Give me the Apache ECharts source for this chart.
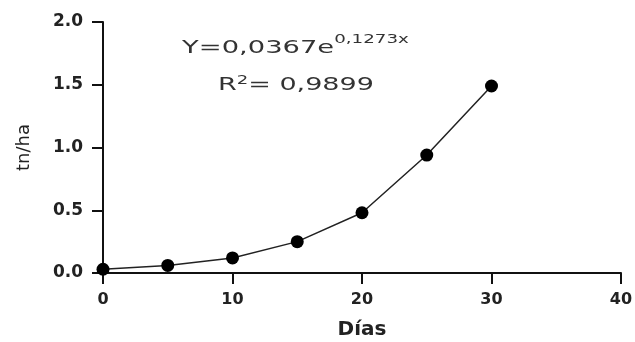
<!DOCTYPE html>
<html><head><meta charset="utf-8">
<script src="https://cdn.jsdelivr.net/npm/echarts@6/dist/echarts.min.js"></script>
<style>html,body{margin:0;padding:0;background:#fff}#c{width:635px;height:342px}</style>
</head><body><div id="c"></div>
<script>
const dias = [0, 5, 10, 15, 20, 25, 30];
const tnha = [0.03, 0.06, 0.12, 0.25, 0.48, 0.94, 1.49];
const xTicks = [0, 10, 20, 30, 40];
const yTicks = [0, 0.5, 1.0, 1.5, 2.0];
const eqText = 'Y=0,0367e';
const eqExp = '0,1273x';
const r2Text = ['R', '2', '= 0,9899'];

const chart = echarts.init(document.getElementById('c'));
const bold = 'DejaVu Sans, sans-serif';
chart.setOption({
  animation: false,
  grid: {left: 103, right: 14, top: 22, bottom: 69, containLabel: false, outerBoundsMode: 'none'},
  xAxis: {
    type: 'value', min: xTicks[0], max: xTicks[xTicks.length-1], interval: 10,
    name: 'Días', nameLocation: 'middle', nameGap: 47,
    nameTextStyle: {fontFamily: bold, fontWeight: 'bold', fontSize: 20, color: '#222'},
    axisLine: {lineStyle: {color: '#111', width: 2}},
    axisTick: {length: 11, lineStyle: {color: '#111', width: 2}},
    axisLabel: {fontFamily: bold, fontWeight: 'bold', fontSize: 16, color: '#222', margin: 19},
    splitLine: {show: false}
  },
  yAxis: {
    type: 'value', min: yTicks[0], max: yTicks[yTicks.length-1], interval: 0.5,
    name: 'tn/ha', nameLocation: 'middle', nameGap: 70,
    nameTextStyle: {fontFamily: bold, fontSize: 18, color: '#222'},
    axisLine: {lineStyle: {color: '#111', width: 2}},
    axisTick: {length: 11, lineStyle: {color: '#111', width: 2}},
    axisLabel: {fontFamily: bold, fontWeight: 'bold', fontSize: 17, color: '#222', margin: 20,
      formatter: v => v.toFixed(1)},
    splitLine: {show: false}
  },
  series: [{
    type: 'line',
    data: dias.map((d, i) => [d, tnha[i]]),
    symbol: 'circle', symbolSize: 13,
    itemStyle: {color: '#000'},
    lineStyle: {color: '#222', width: 1.5},
    smooth: false
  }],
  graphic: [
    {type: 'text', x: 182, y: 34, scaleX: 1.52, style: {
      x: 0, y: 0, verticalAlign: 'top',
      text: '{a|' + eqText + '}{s|' + eqExp + '}',
      rich: {
        a: {fontFamily: 'DejaVu Sans, sans-serif', fontSize: 18, fill: '#333', verticalAlign: 'bottom'},
        s: {fontFamily: 'DejaVu Sans, sans-serif', fontSize: 12, fill: '#333', verticalAlign: 'top', padding: [0,0,11,0]}
      }}},
    {type: 'text', x: 218, y: 75, scaleX: 1.5, style: {
      x: 0, y: 0, verticalAlign: 'top',
      text: '{a|' + r2Text[0] + '}{s|' + r2Text[1] + '}{a|' + r2Text[2] + '}',
      rich: {
        a: {fontFamily: 'DejaVu Sans, sans-serif', fontSize: 18, fill: '#333'},
        s: {fontFamily: 'DejaVu Sans, sans-serif', fontSize: 12, fill: '#333', padding: [0,0,9,0]}
      }}}
  ]
});
</script></body></html>
